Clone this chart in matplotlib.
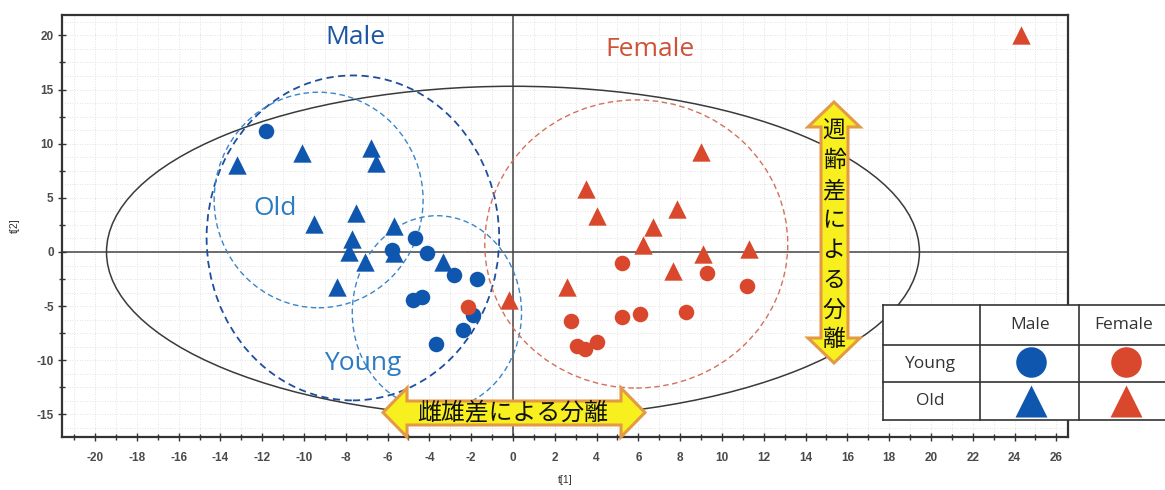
import matplotlib
matplotlib.use("Agg")
import matplotlib.pyplot as plt
from matplotlib.patches import Ellipse, Polygon, Rectangle
from matplotlib.lines import Line2D
import numpy as np

plt.rcParams["axes.unicode_minus"] = False

# ---------------- data ----------------
male_young_x = [-11.8, -5.8, -4.7, -4.1, -2.8, -1.7, -4.8, -4.35, -1.9, -2.4, -3.7]
male_young_y = [11.2, 0.2, 1.3, -0.1, -2.1, -2.5, -4.4, -4.2, -5.8, -7.2, -8.5]

male_old_x = [-13.2, -10.1, -6.8, -6.55, -9.5, -7.5, -5.7, -7.7, -7.85, -7.1, -8.4, -5.7, -3.35]
male_old_y = [8.0, 9.1, 9.6, 8.2, 2.6, 3.6, 2.4, 1.2, 0.0, -0.9, -3.2, -0.1, -0.9]

female_young_x = [-2.15, 5.2, 9.3, 11.2, 2.8, 5.2, 6.1, 8.3, 3.05, 3.45, 4.0]
female_young_y = [-5.1, -1.0, -1.9, -3.1, -6.4, -6.0, -5.7, -5.5, -8.7, -9.0, -8.3]

female_old_x = [24.3, 9.0, 3.5, 4.0, 7.85, 6.7, 6.2, 9.1, 11.3, 7.65, 2.6, -0.2]
female_old_y = [20.0, 9.2, 5.8, 3.3, 4.0, 2.3, 0.65, -0.2, 0.3, -1.8, -3.2, -4.4]

x_ticks = list(range(-20, 27, 2))
y_ticks = [-15, -10, -5, 0, 5, 10, 15, 20]

group_labels = ["Male", "Female", "Old", "Young"]
row_labels = ["Young", "Old"]
col_labels = ["Male", "Female"]
arrow_h_text = "雌雄差による分離"
arrow_v_text = "週齢差による分離"

BLUE = "#0F57AE"
RED = "#D9482C"
DBLUE = "#1D55A5"
LBLUE = "#2B7BC2"
TXT_RED = "#CF5137"

W, H = 1165, 490
fig = plt.figure(figsize=(W / 100, H / 100), dpi=100)


def px(x, y):
    return (x / W, 1 - y / H)


ax = fig.add_axes([62 / W, 1 - 437 / H, (1068 - 62) / W, (437 - 15) / H])
ax.set_xlim(-21.58, 26.56)
ax.set_ylim(-17.08, 21.88)

# grid
ax.set_xticks(x_ticks)
ax.set_xticks(np.arange(-21, 27, 1), minor=True)
ax.set_yticks(y_ticks)
ax.set_yticks(np.arange(-15, 22, 2.5), minor=True)
for gx in np.arange(-21, 27, 1):
    ax.axvline(gx, color="#d9d9d9", lw=0.6, ls=(0, (1, 2)), zorder=0)
for gy in np.arange(-16.25, 22, 1.25):
    ax.axhline(gy, color="#d9d9d9", lw=0.6, ls=(0, (1, 2)), zorder=0)

ax.tick_params(axis="both", which="both", direction="inout", color="#333333", width=1.0)
ax.tick_params(axis="both", which="major", length=6, labelsize=8.5, labelcolor="#4a4a4a")
ax.tick_params(axis="both", which="minor", length=5)
for lab in ax.get_xticklabels() + ax.get_yticklabels():
    lab.set_fontfamily("Liberation Sans")
    lab.set_fontweight("bold")
ax.tick_params(axis="x", pad=8)
ax.tick_params(axis="y", pad=3)
for sp in ax.spines.values():
    sp.set_color("#333333")
    sp.set_linewidth(1.6)

ax.set_xlabel("t[1]", fontsize=7.5, color="#333333", family="Liberation Sans", labelpad=8)
ax.set_ylabel("t[2]", fontsize=7.5, color="#333333", family="Liberation Sans", labelpad=12)

# zero lines
ax.axhline(0, color="#444444", lw=1.1, zorder=1)
ax.axvline(0, color="#444444", lw=1.1, zorder=1)

# Hotelling ellipse
ax.add_patch(Ellipse((0, 0), 2 * 19.45, 2 * 15.3, fill=False, ec="#3a3a3a", lw=1.1, zorder=2))

# group circles
ax.add_patch(Ellipse((-7.66, 1.3), 14.0, 30.0, fill=False, ec="#1E4E9E", lw=1.3, ls=(0, (4, 2.5)), zorder=2))
ax.add_patch(Ellipse((-9.3, 4.8), 10.0, 19.9, fill=False, ec="#3A86C8", lw=1.0, ls=(0, (4, 2.5)), zorder=2))
ax.add_patch(Ellipse((-3.64, -5.6), 8.1, 17.9, fill=False, ec="#3A86C8", lw=1.0, ls=(0, (4, 2.5)), zorder=2))
ax.add_patch(Ellipse((5.9, 0.74), 14.5, 26.6, fill=False, ec="#D4705C", lw=1.0, ls=(0, (4, 2.5)), zorder=2))

# points
ax.scatter(male_old_x, male_old_y, marker="^", s=175, c=BLUE, lw=0, zorder=4)
ax.scatter(male_young_x, male_young_y, marker="o", s=125, c=BLUE, lw=0, zorder=4)
ax.scatter(female_old_x, female_old_y, marker="^", s=175, c=RED, lw=0, zorder=4, clip_on=False)
ax.scatter(female_young_x, female_young_y, marker="o", s=125, c=RED, lw=0, zorder=5)

# group labels
lab_font = "Open Sans"
ax.text(-7.56, 19.8, group_labels[0], color=DBLUE, fontsize=19, ha="center", va="center", family=lab_font)
ax.text(6.55, 18.7, group_labels[1], color=TXT_RED, fontsize=19, ha="center", va="center", family=lab_font)
ax.text(-11.4, 4.0, group_labels[2], color=LBLUE, fontsize=19, ha="center", va="center", family=lab_font)
ax.text(-7.2, -10.3, group_labels[3], color=LBLUE, fontsize=19, ha="center", va="center", family=lab_font)

# arrows (figure coords)
YEL = "#F7F01E"
ORG = "#E39A45"
h_arrow = [(383, 412.5), (407, 388), (407, 401), (621, 401), (621, 388), (645, 412.5),
           (621, 437), (621, 425), (407, 425), (407, 437)]
v_arrow = [(834, 102), (860, 127), (848, 127), (848, 338), (860, 338), (834, 363),
           (808, 338), (821, 338), (821, 127), (808, 127)]
for poly in (h_arrow, v_arrow):
    fig.add_artist(Polygon([px(*p) for p in poly], closed=True, fc=YEL, ec=ORG, lw=2.2,
                           transform=fig.transFigure, zorder=10))

jp = ["Noto Sans CJK JP", "DejaVu Sans"]
fig.text(*px(513, 413), arrow_h_text, fontsize=17.2, family=jp, ha="center", va="center", color="#111111", zorder=11)
for i, ch in enumerate(arrow_v_text):
    fig.text(*px(834, 131 + 29.8 * i), ch, fontsize=16.5, family=jp, ha="center", va="center",
             color="#111111", zorder=11)

# legend table
fig.add_artist(Rectangle(px(883, 420), (1170 - 883) / W, (420 - 305) / H, transform=fig.transFigure,
                         fc="white", ec="none", zorder=12))
tcol = "#333333"
for yy in (305, 345, 382, 420):
    fig.add_artist(Line2D([883 / W, 1170 / W], [1 - yy / H, 1 - yy / H], color=tcol, lw=1.2,
                          transform=fig.transFigure, zorder=13))
for xx in (883, 980, 1079):
    fig.add_artist(Line2D([xx / W, xx / W], [1 - 305 / H, 1 - 420 / H], color=tcol, lw=1.2,
                          transform=fig.transFigure, zorder=13))
fig.text(*px(1030, 325), col_labels[0], fontsize=12.5, family=lab_font, ha="center", va="center", color="#333333", zorder=14)
fig.text(*px(1124, 325), col_labels[1], fontsize=12.5, family=lab_font, ha="center", va="center", color="#333333", zorder=14)
fig.text(*px(930, 364), row_labels[0], fontsize=12.5, family=lab_font, ha="center", va="center", color="#333333", zorder=14)
fig.text(*px(930, 401), row_labels[1], fontsize=12.5, family=lab_font, ha="center", va="center", color="#333333", zorder=14)
for (cx, cy, m, c, ms) in [(1031, 362, "o", BLUE, 22), (1126, 362, "o", RED, 22),
                            (1031, 401, "^", BLUE, 23), (1126, 401, "^", RED, 23)]:
    fig.add_artist(Line2D([cx / W], [1 - cy / H], marker=m, ms=ms, mfc=c, mec="none", ls="none",
                          transform=fig.transFigure, zorder=14))

fig.savefig("out.png", dpi=100)
